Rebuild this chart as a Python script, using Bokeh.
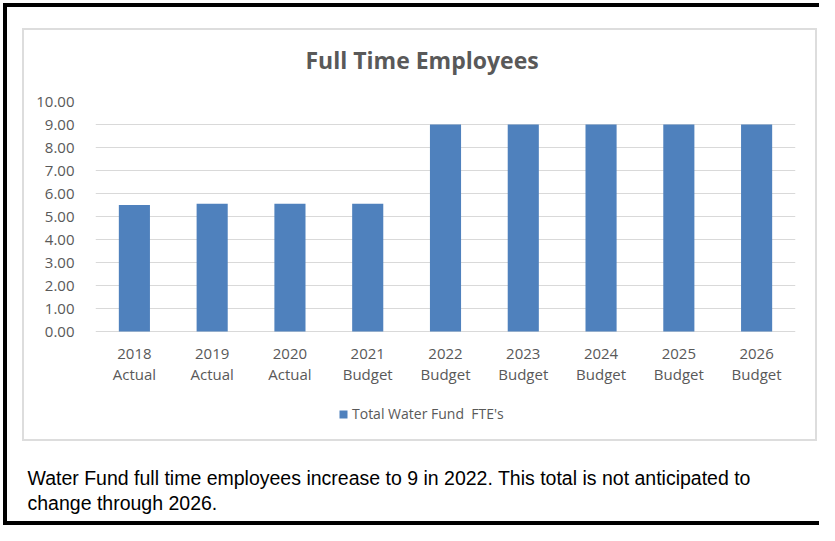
from bokeh.plotting import figure
from bokeh.models import (FactorRange, Range1d, FixedTicker, NumeralTickFormatter,
                          Legend, LegendItem, Title, ColumnDataSource)
from bokeh.embed import file_html
from bokeh.resources import INLINE

# ---- data ----
years = ["2018", "2019", "2020", "2021", "2022", "2023", "2024", "2025", "2026"]
status = ["Actual", "Actual", "Actual", "Budget", "Budget", "Budget", "Budget", "Budget", "Budget"]
fte = [5.50, 5.55, 5.55, 5.55, 9.00, 9.00, 9.00, 9.00, 9.00]
y_ticks = [0, 1, 2, 3, 4, 5, 6, 7, 8, 9, 10]
y_max = 10
series_name = "Total Water Fund  FTE's"
chart_title = "Full Time Employees"
caption_lines = ["Water Fund full time employees increase to 9 in 2022. This total is not anticipated to",
                 "change through 2026."]

cats = [f"{y}\n{s}" for y, s in zip(years, status)]
src = ColumnDataSource(dict(cat=cats, fte=fte))

GREY = "#595959"
FONT = "Open Sans"
W, H = 819, 525
TOP, BASE, BOTTOM = 101, 331, 460          # pixel rows: y_max line, zero line, plot-area bottom
y_start = y_max - y_max * (BOTTOM - TOP) / (BASE - TOP)   # keeps 0..10 on rows 331..101

p = figure(width=W, height=H, x_range=FactorRange(factors=cats), y_range=Range1d(y_start, y_max),
           output_backend="svg", toolbar_location=None,
           min_border_left=95, min_border_right=24, min_border_top=TOP, min_border_bottom=H - BOTTOM)
p.background_fill_alpha = 0
p.border_fill_alpha = 0
p.outline_line_color = None

# page frame (black) and chart-area frame (light grey), painted behind the transparent canvas
rects = [  # (left, top, width, height, colour)
    (3, 3, 4, 522, "black"), (3, 3, 816, 4, "black"), (3, 521, 816, 4, "black"),
    (22, 28, 2, 413, "#dddddd"), (22, 28, 795, 2, "#dddddd"),
    (815, 28, 2, 413, "#dddddd"), (22, 439, 795, 2, "#dddddd"),
]
p.styles = {
    "background-color": "white",
    "background-image": ", ".join(f"linear-gradient({c},{c})" for *_, c in rects),
    "background-position": ", ".join(f"{l}px {t}px" for l, t, *_ in rects),
    "background-size": ", ".join(f"{w}px {h}px" for _, _, w, h, _ in rects),
    "background-repeat": "no-repeat",
}

r = p.vbar(x="cat", top="fte", bottom=0, width=0.4, source=src, fill_color="#4F81BD", line_color=None)

p.title.text = chart_title
p.title.align = "left"
p.title.offset = 210
p.title.standoff = 52
p.title.text_font = FONT
p.title.text_font_size = "23px"
p.title.text_font_style = "bold"
p.title.text_color = GREY

p.yaxis.ticker = FixedTicker(ticks=y_ticks)
p.yaxis.formatter = NumeralTickFormatter(format="0.00")
p.yaxis.axis_line_color = None
p.yaxis.major_tick_line_color = None
p.yaxis.minor_tick_line_color = None
p.yaxis.major_tick_out = 0
p.yaxis.major_tick_in = 0
p.yaxis.major_label_standoff = 21
p.yaxis.major_label_text_font = FONT
p.yaxis.major_label_text_font_size = "15px"
p.yaxis.major_label_text_color = GREY

p.xgrid.grid_line_color = None
p.ygrid.grid_line_color = "#d9d9d9"
p.ygrid.grid_line_width = 1

# caption sits directly under the plot area, the category axis after it
caption = Title(text="\n".join(caption_lines), align="left", offset=-68, standoff=13,
                vertical_align="top", text_font="Liberation Sans", text_font_size="19.5px",
                text_font_style="normal", text_color="black", text_line_height=1.15)
xaxis = p.xaxis[0]
p.below = [caption, xaxis]

xaxis.axis_line_color = None
xaxis.major_tick_line_color = None
xaxis.major_tick_out = 0
xaxis.major_tick_in = 0
xaxis.major_label_standoff = -180
xaxis.major_label_text_font = FONT
xaxis.major_label_text_font_size = "15px"
xaxis.major_label_text_color = GREY
xaxis.major_label_text_line_height = 1.08

legend = Legend(items=[LegendItem(label=series_name, renderers=[r])],
                location=(243, 37), orientation="horizontal",
                padding=0, margin=0, border_line_color=None, background_fill_alpha=0,
                glyph_width=10, glyph_height=10, label_standoff=4,
                label_text_font=FONT, label_text_font_size="14px", label_text_color=GREY)
p.add_layout(legend)

open("out.html", "w").write(file_html(p, INLINE))
